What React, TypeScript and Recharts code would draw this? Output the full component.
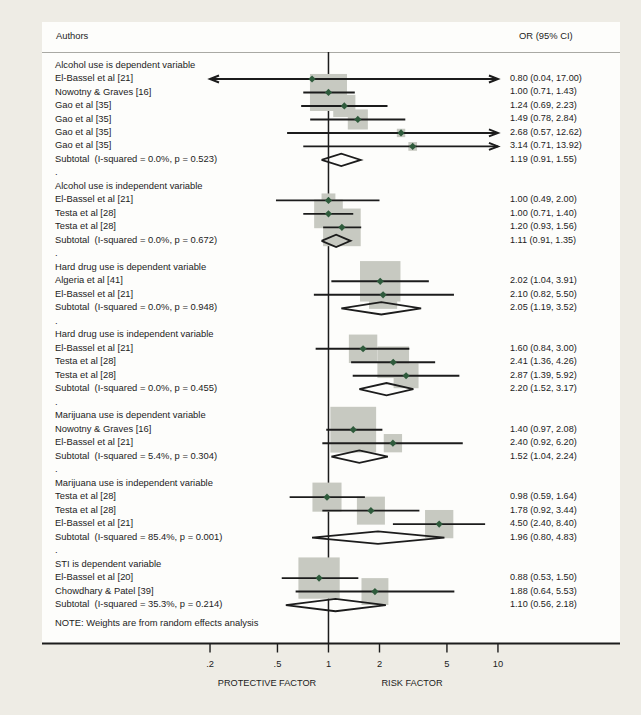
import React from 'react';
import { ComposedChart, Scatter, XAxis, YAxis, ZAxis } from 'recharts';

const FONT = '"Liberation Sans", Arial, sans-serif';
const INK = '#1c1c1c';

// subgroup headings and the rows they sit on
const groupTitles = [
  'Alcohol use is dependent variable',
  'Alcohol use is independent variable',
  'Hard drug use is dependent variable',
  'Hard drug use is independent variable',
  'Marijuana use is dependent variable',
  'Marijuana use is independent variable',
  'STI is dependent variable',
];
const groupRows = [0, 9, 15, 20, 26, 31, 37];
const spacerRows = [8, 14, 19, 25, 30, 36];

// individual studies
const studyNames = [
  'El-Bassel et al [21]', 'Nowotny & Graves [16]', 'Gao et al [35]', 'Gao et al [35]', 'Gao et al [35]', 'Gao et al [35]',
  'El-Bassel et al [21]', 'Testa et al [28]', 'Testa et al [28]',
  'Algeria et al [41]', 'El-Bassel et al [21]',
  'El-Bassel et al [21]', 'Testa et al [28]', 'Testa et al [28]',
  'Nowotny & Graves [16]', 'El-Bassel et al [21]',
  'Testa et al [28]', 'Testa et al [28]', 'El-Bassel et al [21]',
  'El-Bassel et al [20]', 'Chowdhary & Patel [39]',
];
const studyRows = [1, 2, 3, 4, 5, 6, 10, 11, 12, 16, 17, 21, 22, 23, 27, 28, 32, 33, 34, 38, 39];
const studyOR = [0.8, 1.0, 1.24, 1.49, 2.68, 3.14, 1.0, 1.0, 1.2, 2.02, 2.1, 1.6, 2.41, 2.87, 1.4, 2.4, 0.98, 1.78, 4.5, 0.88, 1.88];
const studyLow = [0.04, 0.71, 0.69, 0.78, 0.57, 0.71, 0.49, 0.71, 0.93, 1.04, 0.82, 0.84, 1.36, 1.39, 0.97, 0.92, 0.59, 0.92, 2.4, 0.53, 0.64];
const studyHigh = [17.0, 1.43, 2.23, 2.84, 12.62, 13.92, 2.0, 1.4, 1.56, 3.91, 5.5, 3.0, 4.26, 5.92, 2.08, 6.2, 1.64, 3.44, 8.4, 1.5, 5.53];
// weight within subgroup, %
const studyWeight = [0.8, 56.4, 20.2, 16.6, 2.9, 3.1, 7.9, 33.8, 58.3, 67.4, 32.6, 33.2, 41.2, 25.6, 86.2, 13.8, 34.8, 32.3, 32.9, 70.2, 29.8];

// pooled estimates
const subtotalLabels = [
  'Subtotal  (I-squared = 0.0%, p = 0.523)',
  'Subtotal  (I-squared = 0.0%, p = 0.672)',
  'Subtotal  (I-squared = 0.0%, p = 0.948)',
  'Subtotal  (I-squared = 0.0%, p = 0.455)',
  'Subtotal  (I-squared = 5.4%, p = 0.304)',
  'Subtotal  (I-squared = 85.4%, p = 0.001)',
  'Subtotal  (I-squared = 35.3%, p = 0.214)',
];
const subtotalRows = [7, 13, 18, 24, 29, 35, 40];
const subtotalOR = [1.19, 1.11, 2.05, 2.2, 1.52, 1.96, 1.1];
const subtotalLow = [0.91, 0.91, 1.19, 1.52, 1.04, 0.8, 0.56];
const subtotalHigh = [1.55, 1.35, 3.52, 3.17, 2.24, 4.83, 2.18];

const noteRow = 41.4;
const noteText = 'NOTE: Weights are from random effects analysis';

const xTicks = [0.2, 0.5, 1, 2, 5, 10];
const xTickLabels = ['.2', '.5', '1', '2', '5', '10'];

const X_MIN = 0.2;
const X_MAX = 10;
const X_DOMAIN: [number, number] = [0.0204, 52.5];
const Y_DOMAIN: [number, number] = [-1, 42.85];

const fmt = (v: number) => v.toFixed(2);
const ciText = (o: number, l: number, h: number) => `${fmt(o)} (${fmt(l)}, ${fmt(h)})`;

// one text row per line of the table; x is only an anchor, text sits in fixed columns
const textRows = [
  ...groupRows.map((r, i) => ({ x: 1, y: r, left: groupTitles[i], right: '' })),
  ...spacerRows.map((r) => ({ x: 1, y: r, left: '.', right: '' })),
  ...studyRows.map((r, i) => ({
    x: 1,
    y: r,
    left: studyNames[i],
    right: ciText(studyOR[i], studyLow[i], studyHigh[i]),
  })),
  ...subtotalRows.map((r, i) => ({
    x: 1,
    y: r,
    left: subtotalLabels[i],
    right: ciText(subtotalOR[i], subtotalLow[i], subtotalHigh[i]),
  })),
  { x: 1, y: noteRow, left: noteText, right: '' },
];

const studies = studyRows.map((r, i) => ({ x: studyOR[i], y: r, z: studyWeight[i] }));

const arrows = [
  ...studyRows.flatMap((r, i) => (studyLow[i] < X_MIN ? [{ x: X_MIN, y: r, dir: -1 }] : [])),
  ...studyRows.flatMap((r, i) => (studyHigh[i] > X_MAX ? [{ x: X_MAX, y: r, dir: 1 }] : [])),
];

const DIAMOND_HALF = 0.46;

const RowText = (p: any) => {
  const { cy, payload } = p;
  return (
    <g>
      <text x={55} y={cy} dy="0.22em" fontSize={9.4} fill={INK} fontFamily={FONT} style={{ whiteSpace: 'pre' }}>
        {payload.left}
      </text>
      {payload.right && (
        <text x={510} y={cy} dy="0.22em" fontSize={9.1} fill={INK} fontFamily={FONT}>
          {payload.right}
        </text>
      )}
    </g>
  );
};

const Hidden = () => <g />;

const WeightBox = (p: any) => {
  const size = p.size != null ? p.size : Math.PI * Math.pow((p.width || 0) / 2, 2);
  const s = Math.sqrt(Math.max(size, 0));
  return <rect x={p.cx - s / 2} y={p.cy - s / 2} width={s} height={s} fill="#c7c9c1" />;
};

const PointMarker = (p: any) => {
  const { cx, cy } = p;
  const r = 3.6;
  return <polygon points={`${cx - r},${cy} ${cx},${cy - r} ${cx + r},${cy} ${cx},${cy + r}`} fill="#2f5b3c" />;
};

const ArrowHead = (p: any) => {
  const { cx, cy, payload } = p;
  const d = payload.dir;
  return (
    <path
      d={`M${cx - d * 9},${cy - 3.5} L${cx},${cy} L${cx - d * 9},${cy + 3.5}`}
      fill="none"
      stroke={INK}
      strokeWidth={2}
    />
  );
};

export default function App() {
  return (
    <div style={{ position: 'absolute', left: 0, top: 0, width: 641, height: 715, background: '#eeece5', overflow: 'hidden' }}>
      <svg width={641} height={715} style={{ position: 'absolute', left: 0, top: 0 }}>
        <rect x={42} y={22} width={578} height={622} fill="#fdfdfb" />
        <line x1={42} x2={620} y1={52.5} y2={52.5} stroke="#a9a9a4" strokeWidth={1} />
        <text x={56} y={39} fontSize={9.4} fill={INK} fontFamily={FONT}>Authors</text>
        <text x={519} y={39} fontSize={9.4} fill={INK} fontFamily={FONT}>OR (95% CI)</text>
        <text x={267} y={685.5} fontSize={9.2} fill={INK} fontFamily={FONT} textAnchor="middle">PROTECTIVE FACTOR</text>
        <text x={412} y={685.5} fontSize={9.2} fill={INK} fontFamily={FONT} textAnchor="middle">RISK FACTOR</text>
      </svg>
      <div style={{ position: 'absolute', left: 0, top: 0 }}>
        <ComposedChart width={641} height={715} margin={{ top: 52, right: 21, bottom: 41.5, left: 42 }}>
          <XAxis
            type="number"
            dataKey="x"
            scale="log"
            domain={X_DOMAIN}
            allowDataOverflow
            ticks={xTicks}
            interval={0}
            tickFormatter={(v: number) => xTickLabels[xTicks.indexOf(v)] ?? String(v)}
            tickSize={9}
            tickMargin={8}
            height={30}
            axisLine={{ stroke: INK, strokeWidth: 2 }}
            tickLine={{ stroke: INK, strokeWidth: 1.4 }}
            tick={{ fontSize: 9.3, fill: INK, fontFamily: FONT }}
          />
          <YAxis type="number" dataKey="y" domain={Y_DOMAIN} reversed allowDataOverflow hide />
          <ZAxis type="number" dataKey="z" domain={[0, 100]} range={[0, 2430]} />

          {/* null line at OR = 1 */}
          <Scatter
            data={[{ x: 1, y: Y_DOMAIN[0] }, { x: 1, y: Y_DOMAIN[1] }]}
            line={{ stroke: INK, strokeWidth: 1.5 }}
            shape={Hidden}
            isAnimationActive={false}
          />

          {/* study weights */}
          <Scatter data={studies} shape={WeightBox} isAnimationActive={false} />

          {/* confidence intervals, clipped to the axis range */}
          {studyRows.map((r, i) => (
            <Scatter
              key={`ci-${i}`}
              data={[
                { x: Math.max(studyLow[i], X_MIN), y: r },
                { x: Math.min(studyHigh[i], X_MAX), y: r },
              ]}
              line={{ stroke: INK, strokeWidth: 1.9 }}
              shape={Hidden}
              isAnimationActive={false}
            />
          ))}

          <Scatter data={arrows} shape={ArrowHead} isAnimationActive={false} />

          <Scatter data={studies} shape={PointMarker} isAnimationActive={false} />

          {/* pooled diamonds */}
          {subtotalRows.map((r, i) => (
            <Scatter
              key={`sub-${i}`}
              data={[
                { x: subtotalLow[i], y: r },
                { x: subtotalOR[i], y: r - DIAMOND_HALF },
                { x: subtotalHigh[i], y: r },
                { x: subtotalOR[i], y: r + DIAMOND_HALF },
                { x: subtotalLow[i], y: r },
              ]}
              line={{ stroke: INK, strokeWidth: 1.8, strokeLinejoin: 'miter' }}
              shape={Hidden}
              isAnimationActive={false}
            />
          ))}

          {/* study names and estimates */}
          <Scatter data={textRows} shape={RowText} isAnimationActive={false} />
        </ComposedChart>
      </div>
    </div>
  );
}
